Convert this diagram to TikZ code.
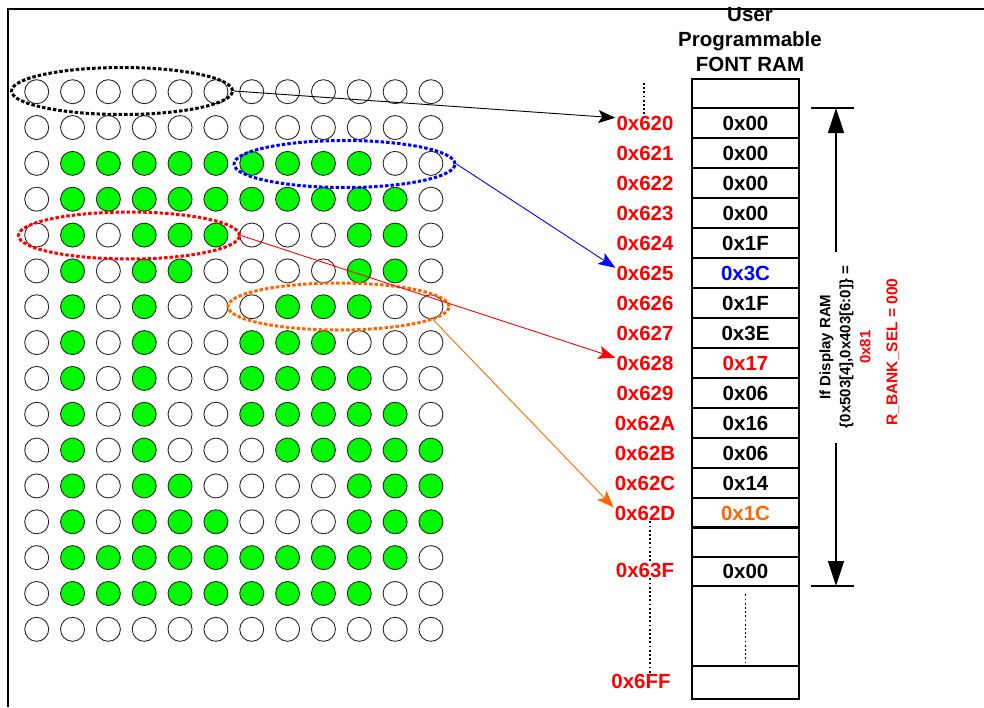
\documentclass[tikz,border=0pt]{standalone}
\usepackage{fontspec}
\setmainfont{Liberation Sans}
\usetikzlibrary{arrows.meta,shapes.geometric}
\definecolor{dotGreen}{RGB}{0,250,0}
\definecolor{addrRed}{RGB}{255,0,0}
\definecolor{linkBlue}{RGB}{0,0,255}
\definecolor{linkOrange}{RGB}{255,102,0}

\begin{document}
\begin{tikzpicture}[x=1pt,y=-1pt,line cap=butt,line join=miter,
  dot/.style={draw=black!85,line width=0.9pt},
  sel/.style={ellipse,draw,inner sep=0pt,minimum width=221pt,minimum height=47pt,line width=3pt,dash pattern=on 3.5pt off 2pt},
  link/.style={line width=0.9pt,-{Stealth[length=17pt,width=13pt,inset=4pt]}},
  addr/.style={addrRed,font=\bfseries\fontsize{20.5}{24}\selectfont,inner sep=1pt},
  cell/.style={draw,line width=1.4pt,minimum width=107pt,minimum height=30pt,inner sep=0pt,font=\bfseries\fontsize{20.5}{24}\selectfont},
  vdots/.style={line width=1.8pt,dash pattern=on 1.8pt off 2.4pt},
  span/.style={line width=1.4pt}]
  \useasboundingbox (0,0) rectangle (984,707);
  % dot matrix, one list per row
  \foreach \pat [count=\r from 0] in {
    {0,0,0,0,0,0,0,0,0,0,0,0},
    {0,0,0,0,0,0,0,0,0,0,0,0},
    {0,1,1,1,1,1,1,1,1,1,0,0},
    {0,1,1,1,1,1,1,1,1,1,1,0},
    {0,1,0,1,1,1,0,0,0,1,1,0},
    {0,1,0,1,1,0,0,0,0,1,1,0},
    {0,1,0,1,0,0,0,1,1,1,0,0},
    {0,1,0,1,0,0,1,1,1,0,0,0},
    {0,1,0,1,0,0,1,1,1,1,0,0},
    {0,1,0,1,0,0,1,1,1,1,1,0},
    {0,1,0,1,0,0,0,1,1,1,1,1},
    {0,1,0,1,1,0,0,0,0,1,1,1},
    {0,1,0,1,1,1,0,0,0,1,1,1},
    {0,1,1,1,1,1,1,1,1,1,1,0},
    {0,1,1,1,1,1,1,1,1,1,0,0},
    {0,0,0,0,0,0,0,0,0,0,0,0}}
    \foreach \v [count=\c from 0] in \pat {
      \ifnum\v=1
        \draw[dot,fill=dotGreen] ({36.7+35.84*\c},{91.7+35.84*\r}) circle[radius=12pt];
      \else
        \draw[dot] ({36.7+35.84*\c},{91.7+35.84*\r}) circle[radius=12pt];
      \fi
    }
  % selected runs of dots
  \node[sel] (selBlack) at (122,91) {};
  \node[sel,draw=linkBlue] (selBlue) at (344.5,164) {};
  \node[sel,draw=addrRed] (selRed) at (129,235.5) {};
  \node[sel,draw=linkOrange] (selOrange) at (338.5,306.5) {};

  % font RAM table
  \node[align=center,font=\bfseries\fontsize{20.5}{25}\selectfont] (ramTitle) at (750,40) {User\\Programmable\\FONT RAM};
  \node[cell,minimum height=29pt] (rTop) at (745.5,93.5) {};
  \foreach \a/\val/\valcol [count=\i from 0] in {620/0x00/black,621/0x00/black,622/0x00/black,623/0x00/black,
      624/0x1F/black,625/0x3C/linkBlue,626/0x1F/black,627/0x3E/black,628/0x17/addrRed,629/0x06/black,
      62A/0x16/black,62B/0x06/black,62C/0x14/black,62D/0x1C/linkOrange} {
    \node[cell,text=\valcol] (r\a) at (745.5,{123+30*\i}) {\val};
    \node[addr] (a\a) at (645,{123+30*\i}) {0x\a};
  }
  \node[cell] (rGap) at (745.5,542) {};
  \node[cell,minimum height=29pt] (r63F) at (745.5,571.5) {0x00};
  \node[cell,minimum height=80pt] (rMore) at (745.5,626) {};
  \node[cell,minimum height=33pt] (r6FF) at (745.5,682.5) {};
  \node[addr] (a63F) at (645,570) {0x63F};
  \node[addr] (a6FF) at (641,681) {0x6FF};

  \coordinate (addrTop) at (644,83);
  \draw[vdots] (addrTop) -- (a620.north -| addrTop);
  \draw[vdots] ([xshift=5pt]a62D.south) -- ([xshift=5pt]a63F.north);
  \draw[vdots] ([xshift=5pt]a63F.south) -- ([xshift=9pt]a6FF.north);
  \draw[vdots] ([yshift=-9pt]rMore.north) -- (rMore.south);

  % span of the character
  \coordinate (spanTop) at (836,108);
  \coordinate (spanBot) at (836,586);
  \coordinate (spanUp) at (836,252);
  \coordinate (spanDown) at (836,443);
  \draw[span] ([xshift=-25pt]spanTop) -- ([xshift=18pt]spanTop);
  \draw[span] ([xshift=-25pt]spanBot) -- ([xshift=18pt]spanBot);
  \draw[span,-{Triangle[length=25pt,width=16pt]}] (spanUp) -- (spanTop);
  \draw[span,-{Triangle[length=25pt,width=16pt]}] (spanDown) -- (spanBot);
  \node[rotate=90,align=center,font=\bfseries\fontsize{15}{20}\selectfont] (ramNote) at (845,347)
    {If Display RAM\\\{0x503[4],0x403[6:0]\} =\\\textcolor{addrRed}{0x81}};
  \node[rotate=90,addrRed,font=\bfseries\fontsize{15.5}{18}\selectfont] (bankSel) at (893,352) {R\_BANK\_SEL = 000};

  % links from dot rows to bytes
  \draw[link] (selBlack.east) -- (a620.170);
  \draw[link,linkBlue] (selBlue.east) -- (a625.170);
  \draw[link,addrRed] (selRed.east) -- (a628.170);
  \draw[link,linkOrange] (selOrange.-8) -- (a62D.170);

  % frame
  \draw[line width=2pt] (8,707) -- (8,9) -- (984,9);
\end{tikzpicture}
\end{document}
